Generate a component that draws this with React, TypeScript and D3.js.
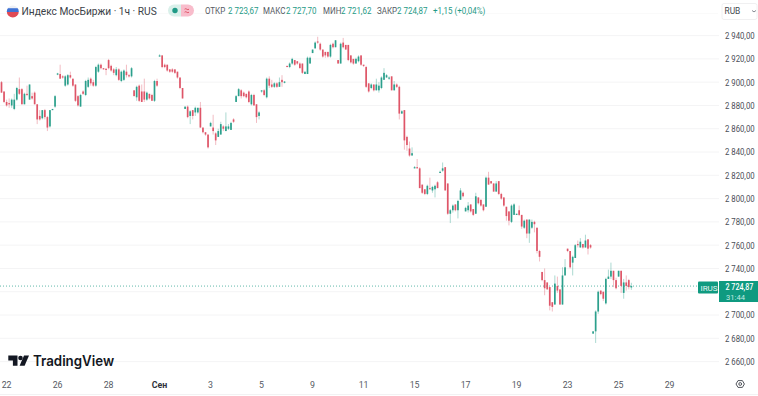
import React from "react";
import * as d3 from "d3";

const opens = [2900,2892,2883,2882,2880,2877,2885,2894,2894,2881,2890,2885,2888,2891,2881,2871,2869,2876,2870,2862,2876,2879,
2907,2907,2905,2897,2898,2906,2903,2898,2888,2879,2892,2889,2896,2903,2900,2897,2909,2915,2912,2911.5,2919,2914,2911,2906,2911,2901,2902,2909,2906,2905,
2893,2887,2897,2892,2892,2885,2890,2889,2884,2901,
2922,2923,2915,2915,2911,2911,2911,2909,2904,2895,
2877,2879,2871,2876,2874,2874,2878,2861,2857,2855,2862,2861,2856,2853,2855,2862,2858,2860,2859,2868,
2883,2888,2893,2891,2890,2892,2881,2889,2881,2871,2892,2893,2887,2903,2898,2896,2899,2896,2902,2900,
2914,2913,2916,2919,2918,2916,2916,2907,2907,2916,
2925,2929,2935,2933,2928,2926,2926,2922,2933,2930,
2919,2916,2934,2932,2932,2923,2920,2916,2918,2923,
2915,2913,2899,2895,2898,2893,2893,2895,2902,2904,
2903,2905,2893,2898,2896,2873,2876,2853,2843,2837,
2826,2827,2826,2812,2808,2804,2809,2807,2808,2814,
2822,2824,2827,2813,2787,2790,2795,2790,2799,2805,
2789,2790,2795,2791,2787,2801,2799,2795,2793,2818,
2815,2813,2806,2815,2804,2801,2793,2789,2780,2786,
2787,2790,2786,2775,2782,2770,2775,2780,2775,2755,
2737,2730,2728,2724,2711,2709,2725,2722,2709,2734,
2757,2755,2745,2749,2761,2758,2761,2758,2765,2760,
2684,2686,2703,2721,2720,2710,2731,2733,2738,2730,
2733,2738,2719,2728,2730,2723.67];

const highs = [2901,2892,2885,2886,2886,2890,2896,2904,2895,2891,2897,2898,2891,2892,2881,2876,2876,2877,2871,2876,2877,2889,
2908,2915,2906,2906,2907,2909,2903,2898,2889,2890,2893,2902,2904,2904,2902,2914,2916,2916,2912,2912,2920,2915,2912,2913,2912,2910,2911,2915,2907,2913,
2893,2897,2898,2898,2903,2892,2890,2890,2902,2903,
2924,2923,2916,2915,2911,2912,2911,2909,2904,2895,
2879,2880,2876,2876,2879,2878,2883,2861,2857,2855,2866,2872,2857,2860,2866,2863,2874,2864,2866,2869,
2889,2895,2894,2892,2890,2893,2890,2890,2881,2875,2893,2894,2904,2905,2902,2900,2900,2904,2906,2901,
2914,2917,2921,2919,2918,2917,2916,2909,2922,2922,
2928,2935,2939,2934,2928,2926,2926,2933,2934,2936,
2919,2934,2938,2932,2932,2923,2920,2921,2923,2923,
2915,2914,2899,2899,2898,2903,2900,2905,2912,2907,
2905,2905,2901,2899,2897,2876,2876,2854,2849,2844,
2828,2834,2827,2812,2808,2812,2818,2811,2812,2815,
2824,2831,2827,2813,2791,2795,2795,2799,2809,2806,
2793,2797,2795,2791,2805,2801,2799,2795,2819,2823,
2815,2813,2815,2815,2805,2801,2793,2789,2795,2796,
2787,2794,2786,2782,2782,2782,2782,2781,2775,2756,
2737,2740,2728,2724,2711,2734,2733,2722,2741,2748,
2757,2755,2751,2761,2764,2766,2761,2769,2765,2761,
2686,2704,2721,2721,2720,2732,2739,2745,2738,2732,
2738,2738,2731,2734,2731,2727.7];

const lows = [2891,2882,2879,2878,2878,2876,2884,2889,2881,2881,2888,2885,2885,2881,2864,2867,2868,2868,2858,2861,2876,2878,
2906,2903,2903,2896,2897,2903,2896,2883,2879,2879,2889,2888,2895,2897,2896,2896,2908,2911,2911,2906,2911,2909,2906,2905,2901,2900,2901,2904,2904,2904,
2888,2884,2883,2883,2883,2884,2885,2884,2883,2896,
2922,2912,2912,2909,2908,2908,2907,2903,2894,2886,
2877,2869,2864,2868,2871,2873,2861,2856,2854,2843,2862,2855,2846,2853,2855,2858,2858,2859,2859,2865,
2883,2888,2886,2887,2886,2882,2880,2880,2865,2868,2891,2888,2886,2895,2895,2895,2895,2896,2896,2899,
2913,2912,2915,2914,2915,2912,2907,2907,2907,2916,
2925,2929,2933,2927,2921,2921,2921,2921,2929,2930,
2916,2916,2929,2928,2918,2916,2915,2916,2917,2914,
2913,2895,2891,2894,2892,2893,2891,2894,2902,2904,
2902,2893,2893,2895,2868,2873,2842,2841,2836,2837,
2826,2826,2809,2804,2803,2803,2808,2805,2801,2809,
2822,2823,2807,2786,2779,2788,2789,2783,2799,2801,
2789,2788,2788,2785,2787,2795,2793,2789,2793,2812,
2813,2806,2806,2803,2799,2793,2781,2777,2779,2786,
2786,2785,2774,2774,2766,2762,2774,2771,2753,2746,
2729,2717,2722,2704,2703,2709,2719,2709,2709,2734,
2754,2740,2734,2749,2758,2758,2757,2758,2752,2757,
2684,2676,2701,2717,2712,2709,2731,2731,2724,2722,
2733,2719,2714,2721,2722,2721.62];

const closes = [2891,2883,2880,2881,2885,2885,2895,2890,2881,2890,2889,2898,2886,2881,2868,2868,2876,2870,2861,2876,2877,2888,
2907.5,2903,2904,2905,2906,2904,2897,2884,2880,2889,2890,2901,2902,2899,2897,2913,2915,2912,2911.5,2911,2912,2910,2908,2911,2902,2909,2910,2906,2905,2912,
2888,2896,2884,2883,2885,2891,2886,2884,2901,2897,
2923,2913,2913,2910,2909,2909,2908,2904,2895,2886,
2879,2870,2875,2871,2878,2878,2861,2857,2855,2844,2865,2858,2850,2858,2864,2860,2862,2862,2865,2866,
2888,2894,2888,2888,2887,2883,2889,2880,2870,2874,2893,2889,2903,2897,2896,2899,2896,2900,2900,2900.5,
2913,2916,2920,2915,2916,2912,2908,2909,2921,2921,
2928,2934,2934,2928,2922,2923,2922,2932,2930,2936,
2916,2933,2930,2928,2919,2917,2916,2920,2922,2915,
2914,2896,2892,2898,2893,2898,2897,2904,2908,2906,
2904,2893,2898,2896,2873,2875,2850,2846,2837,2839,
2827,2826,2809,2805,2804,2811,2808,2810,2811,2809,
2823,2826,2807,2787,2790,2794,2790,2798,2807,2802,
2792,2794,2789,2786,2802,2796,2794,2790,2818,2812,
2813,2806,2813,2804,2800,2794,2785,2781,2794,2795,
2787,2786,2776,2781,2770,2782,2780,2778,2755,2750,
2730,2723,2722,2708,2707,2727,2721,2709,2734,2741,
2755,2741,2750,2760,2760,2763,2758,2764,2757,2758,
2686,2703,2720,2718,2714,2731,2733,2738,2730,2723,
2738,2725,2728,2725,2724,2724.87];

const priceTicks = [2940,2920,2900,2880,2860,2840,2820,2800,2780,2760,2740,2720,2700,2680,2660];
const priceTickLabels = ["2 940,00","2 920,00","2 900,00","2 880,00","2 860,00","2 840,00","2 820,00","2 800,00","2 780,00","2 760,00","2 740,00","","2 700,00","2 680,00","2 660,00"];
const timeLabels = ["22","26","28","Сен","3","5","9","11","15","17","19","23","25","29"];
const timeIndexes = [2,22,42,62,82,102,122,142,162,182,202,222,242,262];
const legendLabels = ["ОТКР","2 723,67","МАКС","2 727,70","МИН","2 721,62","ЗАКР","2 724,87","+1,15 (+0,04%)"];
const legendStart = [205,228,263,286,323,341,377,397,433];
const lastPrice = 2724.87;

const UP = "#1f9a86";
const DOWN = "#dc4c5f";
const FONT = "Roboto, 'Noto Sans', sans-serif";

const x = d3.scaleLinear().domain([0, 247]).range([1.5, 631.35]);
const y = d3.scaleLinear().domain([2660, 2940]).range([361.6, 35.6]);

const candles = d3.range(opens.length).map((i) => ({
  i, o: opens[i], h: highs[i], l: lows[i], c: closes[i],
}));

function Squeezed({ px, py, sx, children, ...rest }: any) {
  return <text transform={`translate(${px},${py}) scale(${sx},1)`} {...rest}>{children}</text>;
}

export default function App() {
  const lastY = y(lastPrice);
  return (
    <svg width={758} height={396} viewBox="0 0 758 396"
      style={{ position: "fixed", left: 0, top: 0, background: "#fff", fontFamily: FONT }}>
      <defs>
        <clipPath id="flag"><circle cx={12.8} cy={11.4} r={6} /></clipPath>
      </defs>
      <rect width={758} height={396} fill="#fff" />

      {priceTicks.map((t) => (
        <line key={t} x1={0} x2={719} y1={y(t)} y2={y(t)} stroke="#f4f4f5" strokeWidth={1} />
      ))}
      <line x1={0} x2={758} y1={394.5} y2={394.5} stroke="#f2f2f3" />
      <line x1={0} x2={718} y1={13.5} y2={13.5} stroke="#fafafa" />

      <line x1={0} x2={698} y1={lastY} y2={lastY} stroke="#1f9a86" strokeOpacity={0.7}
        strokeWidth={1} strokeDasharray="1 2" />

      {candles.map((d) => {
        const cx = x(d.i);
        const col = d.c >= d.o ? UP : DOWN;
        const top = y(Math.max(d.o, d.c));
        const bottom = y(Math.min(d.o, d.c));
        return (
          <g key={d.i}>
            <line x1={cx} x2={cx} y1={y(d.h)} y2={y(d.l)} stroke={col} strokeOpacity={0.42} strokeWidth={0.9} />
            <rect x={cx - 0.85} y={top} width={1.7} height={Math.max(bottom - top, 1.2)} fill={col} fillOpacity={0.92} />
          </g>
        );
      })}

      {/* header */}
      <g clipPath="url(#flag)">
        <rect x={6} y={5} width={14} height={3.2} fill="#eef0f5" />
        <rect x={6} y={8.2} width={14} height={3.8} fill="#3f72d4" />
        <rect x={6} y={12} width={14} height={6} fill="#e04a55" />
      </g>
      <Squeezed px={21.5} py={14.8} sx={0.895} fontSize={11.4} fill="#3b3f48">Индекс МосБиржи · 1ч · RUS</Squeezed>
      <path d="M174 4.5h7v12h-7a6 6 0 0 1 0-12z" fill="#d9f0ea" />
      <path d="M181 4.5h7a6 6 0 0 1 0 12h-7z" fill="#f8bccb" />
      <circle cx={175} cy={10.5} r={2.7} fill="#1f9a86" />
      <path d="M184.6 9.2q1.2-1 2.2 0t2.2 0M184.6 12.2q1.2-1 2.2 0t2.2 0" fill="none" stroke="#dc4c5f" strokeWidth={0.9} />
      {legendLabels.map((t, k) => (
        <Squeezed key={k} px={legendStart[k]} py={14} sx={0.83} fontSize={9.6}
          fill={k < 8 && k % 2 === 0 ? "#555a63" : "#1f9a86"}>{t}</Squeezed>
      ))}

      {/* RUB button */}
      <rect x={722} y={3.5} width={35} height={16} rx={2} fill="#fff" stroke="#f0f0f1" />
      <text x={724.5} y={14} fontSize={8.4} fill="#444950">RUB</text>
      <path d="M752 10.5l2 1.4 2-1.4" fill="none" stroke="#6a6f78" strokeWidth={0.8} />

      {/* price axis */}
      {priceTicks.filter((_, k) => priceTickLabels[k] !== "").map((t) => (
        <Squeezed key={t} px={725} py={y(t) + 3.4} sx={0.81} fontSize={9.6} fill="#4a4e57">
          {priceTickLabels[priceTicks.indexOf(t)]}
        </Squeezed>
      ))}

      {/* last price label */}
      <rect x={698} y={281.5} width={20} height={12} rx={1} fill="#0f9a80" />
      <text x={700.5} y={290.6} fontSize={8} fill="#e8f6f3">IRUS</text>
      <rect x={719} y={281} width={39} height={21} fill="#0f9a80" />
      <Squeezed px={725.5} py={290} sx={0.8} fontSize={9} fontWeight={500} fill="#fff">2 724,87</Squeezed>
      <Squeezed px={726} py={299.5} sx={0.95} fontSize={8} fill="#c4ebe3">31:44</Squeezed>

      {/* time axis */}
      {timeLabels.map((t, k) => (
        <text key={t} x={x(timeIndexes[k])} y={388} textAnchor="middle" fontSize={8.8}
          fontWeight={t === "Сен" ? 700 : 400} fill={t === "Сен" ? "#2f333b" : "#555a63"}>{t}</text>
      ))}

      {/* settings icon */}
      <path d="M736 384l2-3.4h4.4l2 3.4-2 3.4H738z" fill="none" stroke="#3f434b" strokeWidth={0.9} />
      <circle cx={740.2} cy={384} r={1.4} fill="none" stroke="#3f434b" strokeWidth={0.9} />

      {/* TradingView wordmark */}
      <path d="M8.3 355.6h9.2v10.2h-4.6v-5.4h-4.6z" fill="#131722" />
      <circle cx={20.5} cy={358} r={2.3} fill="#131722" />
      <path d="M24 355.6h5l-4.4 10.2h-5z" fill="#131722" />
      <Squeezed px={33} py={366} sx={0.925} fontFamily="Inter, Roboto, sans-serif" fontSize={14.4} fontWeight={600} fill="#131722">TradingView</Squeezed>
    </svg>
  );
}
